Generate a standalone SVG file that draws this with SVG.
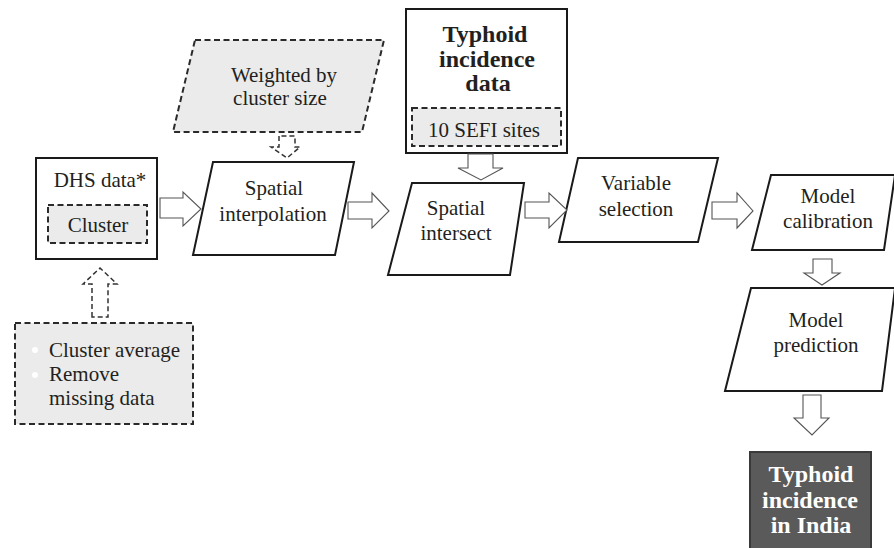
<svg xmlns="http://www.w3.org/2000/svg" width="894" height="548" viewBox="0 0 894 548">
<style>
text{font-family:"Liberation Serif","DejaVu Serif",serif;fill:#231f20;font-size:21px;text-anchor:middle}
.b{font-weight:bold;font-size:24px}
.w{fill:#ffffff}
.solid{fill:#ffffff;stroke:#1a1a1a;stroke-width:2}
.dash{fill:#ebebeb;stroke:#2a2a2a;stroke-width:2;stroke-dasharray:6 3.5}
.arr{fill:#ffffff;stroke:#555;stroke-width:1.1}
.darr{fill:none;stroke:#333;stroke-width:1.5;stroke-dasharray:5 3}
</style>
<rect width="894" height="548" fill="#ffffff"/>
<g id="dhs">
<rect class="solid" x="36" y="158" width="121" height="101"/>
<text x="100" y="187">DHS data*</text>
<rect class="dash" x="48" y="205" width="99" height="38"/>
<text x="98" y="232">Cluster</text>
</g>
<g id="preprocess">
<rect class="dash" x="15" y="323" width="178" height="101"/>
<circle cx="35" cy="350" r="3" fill="#ffffff"/>
<circle cx="35" cy="375" r="3" fill="#ffffff"/>
<text x="49" y="357" style="text-anchor:start">Cluster average</text>
<text x="49" y="381" style="text-anchor:start">Remove</text>
<text x="49" y="405" style="text-anchor:start">missing data</text>
</g>
<g id="weighted">
<polygon class="dash" points="195,40 384,40 362,132 173,132"/>
<text x="284" y="82">Weighted by</text>
<text x="280" y="105">cluster size</text>
</g>
<g id="interp">
<polygon class="solid" points="213,162 354,162 335,255 193,255"/>
<text x="274" y="195">Spatial</text>
<text x="273" y="221">interpolation</text>
</g>
<g id="typhoid-data">
<rect class="solid" x="406" y="9" width="161" height="144"/>
<text class="b" x="485" y="42">Typhoid</text>
<text class="b" x="487" y="67">incidence</text>
<text class="b" x="488" y="91">data</text>
<rect class="dash" x="412" y="108" width="149" height="38"/>
<text x="484" y="137">10 SEFI sites</text>
</g>
<g id="intersect">
<polygon class="solid" points="412,183 524,183 510,275 388,275"/>
<text x="456" y="215">Spatial</text>
<text x="456" y="240">intersect</text>
</g>
<g id="variable">
<polygon class="solid" points="578,158 718,158 698,242 559,242"/>
<text x="636" y="190">Variable</text>
<text x="636" y="216">selection</text>
</g>
<g id="calibration">
<polygon class="solid" points="771,175 895,175 884,250 752,250"/>
<text x="828" y="203">Model</text>
<text x="828" y="228">calibration</text>
</g>
<g id="prediction">
<polygon class="solid" points="751,288 895,288 882,391 725,391"/>
<text x="816" y="327">Model</text>
<text x="816" y="352">prediction</text>
</g>
<g id="output">
<rect x="750" y="452" width="121" height="100" fill="#5a5a5a" stroke="#3a3a3a" stroke-width="2"/>
<text class="b w" x="811" y="482">Typhoid</text>
<text class="b w" x="810" y="508">incidence</text>
<text class="b w" x="811" y="533">in India</text>
</g>
<g id="connectors">
<polygon class="darr" points="92,317 92,284 83,284 100,268 117,284 108,284 108,317"/>
<polygon class="darr" points="279,136 279,147 271,147 287,158 300,147 295,147 295,136"/>
<polygon class="arr" points="160,198 183,198 183,192 201,209 183,226 183,218 160,218"/>
<polygon class="arr" points="348,202 372,202 372,193 389,211 372,228 372,219 348,219"/>
<polygon class="arr" points="525,202 549,202 549,193 567,210 549,228 549,218 525,218"/>
<polygon class="arr" points="712,202 737,202 737,193 753,211 737,228 737,219 712,219"/>
<polygon class="arr" points="468,154 493,154 493,168 503,168 481,180 458,168 468,168"/>
<polygon class="arr" points="813,259 832,259 832,273 840,273 822,285 804,273 813,273"/>
<polygon class="arr" points="803,395 821,395 821,418 829,418 812,435 794,418 803,418"/>
</g>
</svg>
